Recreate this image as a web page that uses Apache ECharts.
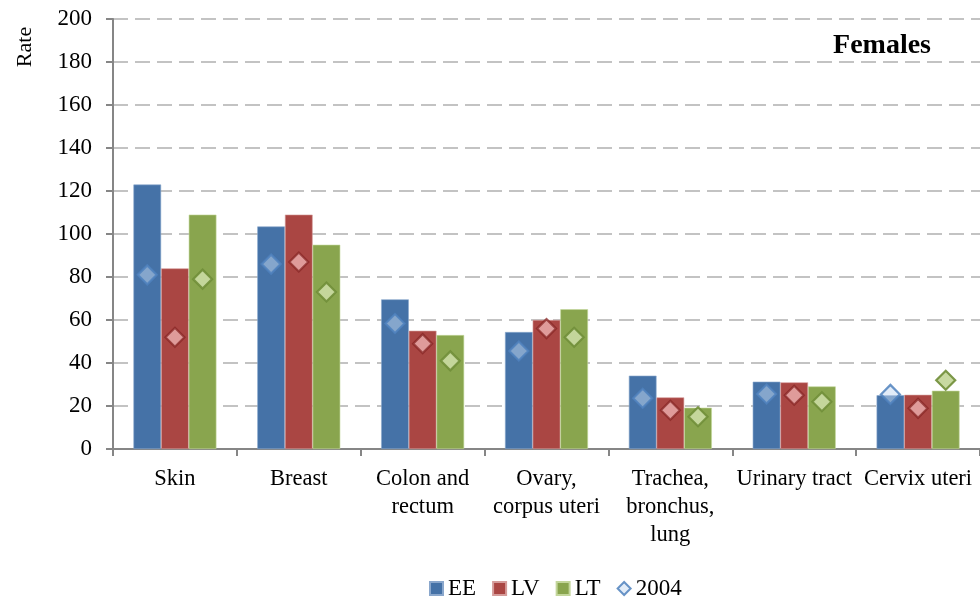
<!DOCTYPE html>
<html>
<head>
<meta charset="utf-8">
<script src="https://cdn.jsdelivr.net/npm/echarts@6/dist/echarts.min.js"></script>
<style>
html,body{margin:0;padding:0;background:#fff;}
#chart{width:980px;height:601px;}
</style>
</head>
<body>
<div id="chart"></div>
<script>
const categories = ['Skin', 'Breast', 'Colon and\nrectum', 'Ovary,\ncorpus uteri', 'Trachea,\nbronchus,\nlung', 'Urinary tract', 'Cervix uteri'];
const EE = [123, 103.5, 69.6, 54.4, 34.1, 31.3, 25];
const LV = [84, 109, 55, 60, 24, 31, 25.2];
const LT = [109, 95, 53, 65, 19.2, 29.1, 27.1];
const EE2004 = [81, 86, 58.4, 45.6, 23.6, 25.6, 25.4];
const LV2004 = [52, 87, 49, 56, 18, 25, 18.9];
const LT2004 = [79, 73, 41, 52, 15, 22, 32];
const yTicks = [0, 20, 40, 60, 80, 100, 120, 140, 160, 180, 200];

const FONT = 'Liberation Serif';
const W = 980, GRID_L = 113, GRID_R = 0;
const catW = (W - GRID_L - GRID_R) / categories.length;
const BCG = 0.33;
const barW = catW * (1 - BCG) / 3;

const chart = echarts.init(document.getElementById('chart'));
const barCommon = {type: 'bar', barGap: '0%', barCategoryGap: (BCG * 100) + '%'};
const markCommon = {type: 'scatter', name: '2004', symbol: 'diamond', symbolSize: 19, z: 5};
chart.setOption({
  animation: false,
  textStyle: {fontFamily: FONT},
  grid: {left: GRID_L, right: GRID_R, top: 19, bottom: 152},
  title: {
    text: 'Females', right: 44, top: 27,
    textStyle: {fontFamily: FONT, fontWeight: 'bold', fontSize: 28, color: '#000'}
  },
  graphic: [{
    type: 'text', x: 25, y: 47, rotation: Math.PI / 2,
    style: {text: 'Rate', fontFamily: FONT, fontSize: 22, fill: '#000', textAlign: 'center', textVerticalAlign: 'middle'}
  }],
  legend: {
    bottom: -4, left: 424,
    itemWidth: 13, itemHeight: 13, itemGap: 16,
    textStyle: {fontFamily: FONT, fontSize: 23, color: '#000'},
    data: [
      {name: 'EE', icon: 'rect'},
      {name: 'LV', icon: 'rect'},
      {name: 'LT', icon: 'rect'},
      {name: '2004', icon: 'diamond'}
    ]
  },
  xAxis: {
    type: 'category', data: categories,
    axisLine: {lineStyle: {color: '#868686', width: 2}},
    axisTick: {show: true, length: 7, alignWithLabel: false, lineStyle: {color: '#868686', width: 2}},
    axisLabel: {fontFamily: FONT, fontSize: 22.5, color: '#000', interval: 0, margin: 16, lineHeight: 28}
  },
  yAxis: {
    type: 'value', min: 0, max: 200, interval: 20,
    axisLine: {show: true, lineStyle: {color: '#868686', width: 2}},
    axisTick: {show: true, length: 7, lineStyle: {color: '#868686', width: 2}},
    axisLabel: {fontFamily: FONT, fontSize: 23, color: '#000', margin: 21,
      formatter: v => yTicks.includes(v) ? String(v) : ''},
    splitLine: {show: true, lineStyle: {color: '#c3c3c3', width: 2, type: [15, 7]}}
  },
  series: [
    Object.assign({}, barCommon, {name: 'EE', data: EE, itemStyle: {color: '#4572A7', borderColor: '#8aa7cc', borderWidth: 0.6}}),
    Object.assign({}, barCommon, {name: 'LV', data: LV, itemStyle: {color: '#AA4643', borderColor: '#d59c9a', borderWidth: 0.6}}),
    Object.assign({}, barCommon, {name: 'LT', data: LT, itemStyle: {color: '#89A54E', borderColor: '#c3d69b', borderWidth: 0.6}}),
    Object.assign({}, markCommon, {data: EE2004, symbolOffset: [-barW, 0], itemStyle: {color: 'rgba(198,217,241,0.5)', borderColor: 'rgba(79,129,189,0.85)', borderWidth: 2.2, opacity: 1}}),
    Object.assign({}, markCommon, {data: LV2004, symbolOffset: [0, 0], itemStyle: {color: 'rgba(226,160,159,0.95)', borderColor: 'rgba(135,38,36,0.75)', borderWidth: 2.2, opacity: 1}}),
    Object.assign({}, markCommon, {data: LT2004, symbolOffset: [barW, 0], itemStyle: {color: 'rgba(198,216,158,0.97)', borderColor: 'rgba(112,142,56,0.9)', borderWidth: 2.2, opacity: 1}})
  ]
});
</script>
</body>
</html>
